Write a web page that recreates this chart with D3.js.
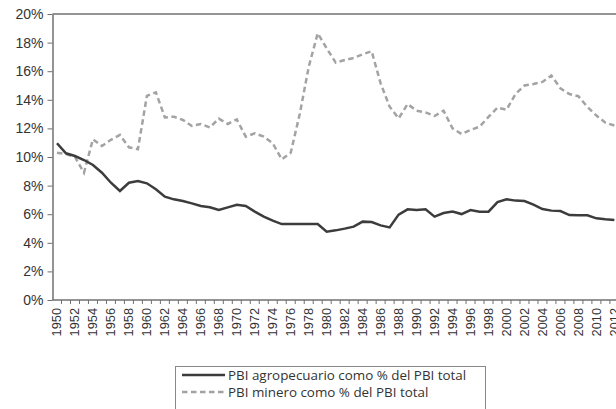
<!DOCTYPE html>
<html>
<head>
<meta charset="utf-8">
<script src="https://cdn.jsdelivr.net/npm/d3@7"></script>
<style>
  body { margin: 0; background: #fff; }
  svg { display: block; font-family: "Open Sans", sans-serif; }
  .axis path, .axis line { stroke: #707070; }
  .axis text { fill: #333; }
</style>
</head>
<body>
<div class="wrapper"></div>
<script>
// years on the x axis
var years = d3.range(1950, 2013);

// PBI agropecuario como % del PBI total
var agro = [
  10.96, 10.26, 10.07, 9.79, 9.44, 8.9, 8.2, 7.62, 8.2, 8.32,
  8.16, 7.74, 7.23, 7.04, 6.92, 6.76, 6.57, 6.48, 6.29, 6.48,
  6.66, 6.57, 6.18, 5.83, 5.55, 5.31, 5.31, 5.31, 5.31, 5.31,
  4.78, 4.87, 4.99, 5.13, 5.48, 5.45, 5.22, 5.08, 5.97, 6.34,
  6.3, 6.34, 5.83, 6.08, 6.18, 6.01, 6.29, 6.18, 6.18, 6.85,
  7.04, 6.95, 6.92, 6.67, 6.36, 6.25, 6.22, 5.94, 5.92, 5.92,
  5.71, 5.64, 5.6
];

// PBI minero como % del PBI total
var minero = [
  10.3, 10.2, 10.0, 8.9, 11.24, 10.77, 11.2, 11.54, 10.68, 10.54,
  14.27, 14.52, 12.77, 12.82, 12.59, 12.17, 12.31, 12.07, 12.68, 12.31,
  12.63, 11.42, 11.66, 11.42, 10.96, 9.84, 10.3, 13.0, 16.3, 18.65,
  17.6, 16.6, 16.78, 16.93, 17.18, 17.4, 15.15, 13.52, 12.7, 13.7,
  13.24, 13.12, 12.87, 13.24, 12.0, 11.61, 11.89, 12.12, 12.8, 13.45,
  13.3, 14.4, 15.0, 15.1, 15.25, 15.7, 14.8, 14.4, 14.25, 13.5,
  12.9, 12.4, 12.2
];

var yTicks = [0, 0.02, 0.04, 0.06, 0.08, 0.10, 0.12, 0.14, 0.16, 0.18, 0.20];
var legendLabels = [
  "PBI agropecuario como % del PBI total",
  "PBI minero como % del PBI total"
];

var width = 616, height = 409;
var plotLeft = 52.5, plotTop = 14, plotBottom = 300;

var svg = d3.select(".wrapper")
  .append("svg")
  .attr("width", width)
  .attr("height", height);

var x = d3.scaleBand()
  .domain(years)
  .range([plotLeft, plotLeft + years.length * 8.99])
  .paddingInner(0)
  .paddingOuter(0);

var y = d3.scaleLinear()
  .domain([0, 0.2])
  .range([plotBottom, plotTop]);

// top frame line
svg.append("line")
  .attr("x1", plotLeft).attr("x2", width + 5)
  .attr("y1", y(0.2)).attr("y2", y(0.2))
  .attr("stroke", "#707070")
  .attr("stroke-width", 1.5);

// y axis
var yAxis = svg.append("g")
  .attr("class", "axis")
  .attr("transform", "translate(" + plotLeft + ",0)")
  .call(d3.axisLeft(y).tickValues(yTicks).tickFormat(d3.format(".0%")).tickSize(5).tickPadding(4).tickSizeOuter(0));
yAxis.select(".domain").attr("stroke-width", 1.5);
yAxis.selectAll("text").style("font-size", "14px");

// x axis labels
var xAxis = svg.append("g")
  .attr("class", "axis")
  .attr("transform", "translate(0," + plotBottom + ")")
  .call(d3.axisBottom(x)
    .tickValues(years.filter(function(d) { return d % 2 == 0; }))
    .tickSize(0)
    .tickSizeOuter(0));
xAxis.select(".domain").attr("d", "M" + plotLeft + ",0H" + (width + 5)).attr("stroke-width", 1.5);
xAxis.selectAll("text")
  .style("font-size", "12.8px")
  .attr("transform", "rotate(-90)")
  .attr("x", -8)
  .attr("y", 0)
  .attr("dy", "0.35em")
  .attr("text-anchor", "end");

// x ticks on category boundaries
xAxis.selectAll(".bound")
  .data(years.slice(1).concat([years[years.length - 1] + 1]))
  .enter()
  .append("line")
  .attr("class", "bound")
  .attr("x1", function(d) { return d <= 2012 ? x(d) : x(2012) + x.bandwidth(); })
  .attr("x2", function(d) { return d <= 2012 ? x(d) : x(2012) + x.bandwidth(); })
  .attr("y1", 0)
  .attr("y2", 4)
  .attr("stroke", "#707070");

var line = d3.line()
  .x(function(d, i) { return x(years[i]) + x.bandwidth() / 2; })
  .y(function(d) { return y(d / 100); });

svg.append("path")
  .datum(minero)
  .attr("fill", "none")
  .attr("stroke", "#a3a3a3")
  .attr("stroke-width", 2.5)
  .attr("stroke-dasharray", "5.5,3.5")
  .attr("d", line);

svg.append("path")
  .datum(agro)
  .attr("fill", "none")
  .attr("stroke", "#3c3c3c")
  .attr("stroke-width", 2.5)
  .attr("d", line);

// legend
var legend = svg.append("g");
legend.append("rect")
  .attr("x", 175.5).attr("y", 366.5)
  .attr("width", 310).attr("height", 60)
  .attr("fill", "#fff")
  .attr("stroke", "#888");

var items = legend.selectAll(".item")
  .data(legendLabels)
  .enter()
  .append("g")
  .attr("class", "item")
  .attr("transform", function(d, i) { return "translate(182," + (375 + i * 17) + ")"; });

items.append("line")
  .attr("x1", 0).attr("x2", 43)
  .attr("stroke", function(d, i) { return i == 0 ? "#3c3c3c" : "#a3a3a3"; })
  .attr("stroke-width", 2.5)
  .attr("stroke-dasharray", function(d, i) { return i == 0 ? null : "5.5,3.5"; });

items.append("text")
  .attr("x", 46)
  .attr("dy", "0.35em")
  .style("font-size", "13.4px")
  .attr("fill", "#333")
  .text(function(d) { return d; });
</script>
</body>
</html>
